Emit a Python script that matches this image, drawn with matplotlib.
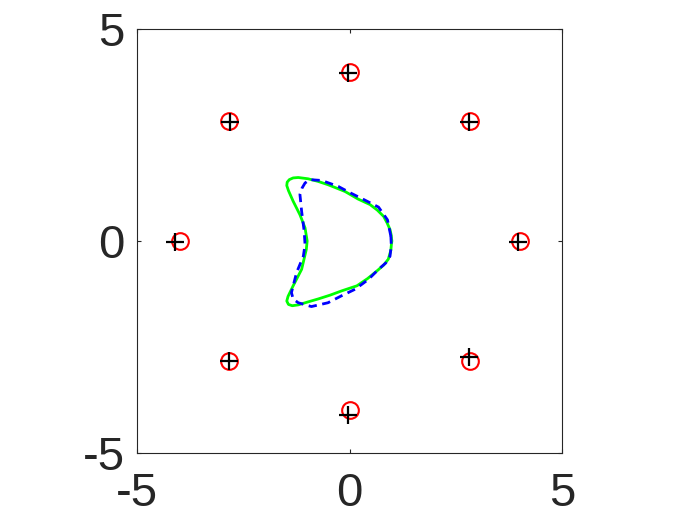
import numpy as np
import matplotlib
matplotlib.use("Agg")
from matplotlib import pyplot as plt

# sensor positions (red circles) and estimated positions (black pluses)
true_x = [4.0, 2.83, 0.0, -2.83, -4.0, -2.83, 0.0, 2.83]
true_y = [0.0, 2.83, 4.0, 2.83, 0.0, -2.83, -4.0, -2.83]
est_x = [3.96, 2.82, -0.03, -2.82, -4.11, -2.83, -0.03, 2.80]
est_y = [-0.03, 2.82, 3.98, 2.82, -0.03, -2.83, -4.11, -2.75]

# true boundary (green, solid)
green_x = [0.99, 0.98, 0.95, 0.88, 0.80, 0.65, 0.48, 0.20, -0.11, -0.51,
           -0.75, -0.98, -1.21, -1.33, -1.42, -1.47, -1.48, -1.44, -1.33,
           -1.17, -1.05, -1.00, -1.02, -1.13, -1.33, -1.45, -1.48, -1.44,
           -1.35, -1.21, -0.98, -0.74, -0.46, -0.19, 0.17, 0.42, 0.64, 0.80,
           0.91, 0.97, 0.99]
green_y = [0.00, 0.13, 0.27, 0.43, 0.58, 0.73, 0.86, 0.99, 1.17, 1.33,
           1.41, 1.47, 1.50, 1.49, 1.45, 1.39, 1.31, 1.19, 0.94,
           0.62, 0.31, 0.00, -0.20, -0.67, -1.06, -1.31, -1.42, -1.50,
           -1.53, -1.51, -1.44, -1.37, -1.28, -1.18, -1.06, -0.89, -0.71, -0.57,
           -0.43, -0.22, 0.00]

# reconstructed boundary (blue, dashed)
blue_x = [0.97, 0.89, 0.68, 0.33, 0.01, -0.27, -0.38, -0.66, -0.94, -1.05,
          -1.12, -1.17, -1.13, -1.07, -1.05, -1.09, -1.25, -1.37, -1.33,
          -1.21, -0.90, -0.51, -0.20, 0.13, 0.44, 0.68, 0.85, 0.95, 0.98, 0.97]
blue_y = [0.11, 0.50, 0.80, 0.98, 1.14, 1.29, 1.33, 1.43, 1.45, 1.37,
          1.25, 1.10, 0.70, 0.23, -0.09, -0.36, -0.75, -1.22, -1.37,
          -1.46, -1.55, -1.46, -1.30, -1.14, -0.91, -0.67, -0.52, -0.36, -0.10, 0.11]

ticks = [-5, 0, 5]

plt.rcParams['font.family'] = ['Liberation Sans', 'DejaVu Sans']
plt.rcParams['axes.unicode_minus'] = False
fig = plt.figure(figsize=(7, 5.25), dpi=100)
ax = fig.add_axes([0.196, 0.138, 0.607, 0.806])

ax.plot(true_x, true_y, 'o', color='red', markersize=12, markerfacecolor='none',
        markeredgewidth=1.5)
ax.plot(est_x, est_y, '+', color='black', markersize=13, markeredgewidth=1.6)
ax.plot(green_x, green_y, '-', color='#00ff00', linewidth=2)
ax.plot(blue_x, blue_y, '--', color='blue', linewidth=2, dashes=(3, 2))

ax.set_xlim(-5, 5)
ax.set_ylim(-5, 5)
ax.set_xticks(ticks)
ax.set_yticks(ticks)
ax.tick_params(direction='in', length=3, width=0.8, colors='#262626',
               labelsize=34, top=True, right=True)
ax.tick_params(axis='x', pad=14)
ax.tick_params(axis='y', pad=9)
for s in ax.spines.values():
    s.set_color('#262626')
    s.set_linewidth(0.8)

fig.savefig("out.png", dpi=100)
